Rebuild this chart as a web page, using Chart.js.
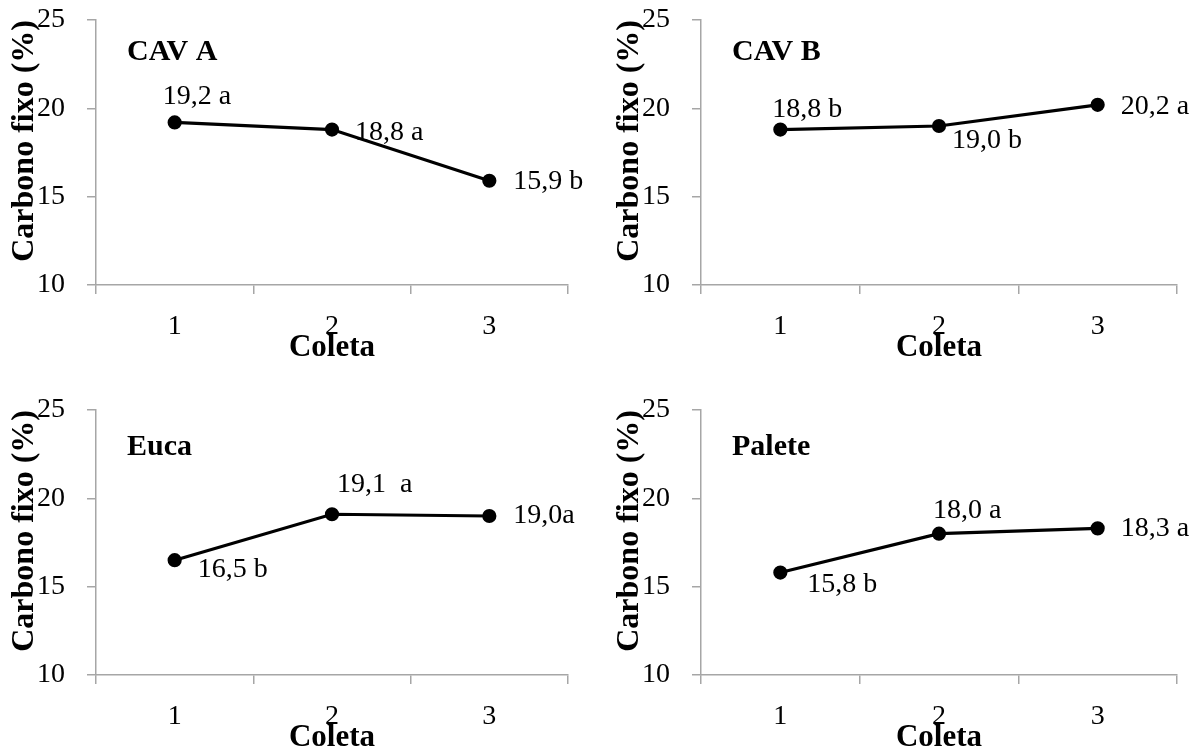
<!DOCTYPE html>
<html>
<head>
<meta charset="utf-8">
<script src="https://cdn.jsdelivr.net/npm/chart.js@4/dist/chart.umd.min.js"></script>
<style>
  html, body { margin: 0; padding: 0; background: #fff; overflow: hidden; width: 1198px; height: 756px; }
  .painel { position: absolute; }
  canvas { display: block; }
</style>
</head>
<body>
<div class="painel" style="left:0px;top:0px"><canvas id="g0" width="599" height="367"></canvas></div>
<div class="painel" style="left:605px;top:0px"><canvas id="g1" width="593" height="367"></canvas></div>
<div class="painel" style="left:0px;top:390px"><canvas id="g2" width="599" height="367"></canvas></div>
<div class="painel" style="left:605px;top:390px"><canvas id="g3" width="593" height="367"></canvas></div>
<script>
// Carbono fixo (%) por coleta, para cada material
const coletas = ['1', '2', '3'];
const nomesPaineis = ['CAV A', 'CAV B', 'Euca', 'Palete'];

const cavA   = [19.2, 18.8, 15.9];
const cavB   = [18.8, 19.0, 20.2];
const euca   = [16.5, 19.1, 19.0];
const palete = [15.8, 18.0, 18.3];

// letras do teste de médias
const letrasCavA   = [' a', ' a', ' b'];
const letrasCavB   = [' b', ' b', ' a'];
const letrasEuca   = [' b', '  a', 'a'];
const letrasPalete = [' b', ' a', ' a'];

const yMin = 10, yMax = 25, yPasso = 5;

const FONTE = "'Liberation Serif', 'Times New Roman', serif";

// deslocamento (px) de cada rótulo em relação ao ponto
const deslocRotulos = [
  [[-12, -26], [23, 3], [24, 1]],
  [[-8, -20], [13, 15], [23, 2]],
  [[23, 9], [5, -30], [24, 0]],
  [[27, 12], [-6, -23], [23, 0]]
];

const series = [cavA, cavB, euca, palete];
const letras = [letrasCavA, letrasCavB, letrasEuca, letrasPalete];

function fmt(v) { return v.toFixed(1).replace('.', ','); }

// escreve os valores junto aos pontos e o nome do material
const rotulos = {
  id: 'rotulos',
  afterDatasetsDraw(chart, args, opts) {
    const ctx = chart.ctx;
    const meta = chart.getDatasetMeta(0);
    const valores = chart.data.datasets[0].data;
    ctx.save();
    ctx.fillStyle = '#000';
    ctx.textAlign = 'left';
    ctx.textBaseline = 'middle';
    ctx.font = '28px ' + FONTE;
    meta.data.forEach((pt, i) => {
      const [dx, dy] = opts.desloc[i];
      ctx.fillText(fmt(valores[i]) + opts.letras[i], pt.x + dx, pt.y + dy);
    });
    ctx.font = 'bold 30px ' + FONTE;
    ctx.fillText(opts.nome, chart.chartArea.left + opts.nomeDx, chart.chartArea.top + opts.nomeDy);
    ctx.restore();
  }
};

const CINZA = '#a6a6a6';

function criarGrafico(idx) {
  const direita = idx % 2 === 1;
  const ctx = document.getElementById('g' + idx);
  return new Chart(ctx, {
    type: 'line',
    data: {
      labels: coletas,
      datasets: [{
        data: series[idx],
        borderColor: '#000',
        backgroundColor: '#000',
        borderWidth: 3.2,
        pointRadius: 5.5,
        pointBackgroundColor: '#000',
        pointBorderColor: '#000',
        tension: 0,
        fill: false,
        clip: false
      }]
    },
    options: {
      responsive: false,
      animation: false,
      layout: { padding: { left: 0, top: 20, right: direita ? 21 : 31, bottom: 0 } },
      plugins: {
        legend: { display: false },
        tooltip: { enabled: false },
        rotulos: {
          desloc: deslocRotulos[idx],
          letras: letras[idx],
          nome: nomesPaineis[idx],
          nomeDx: 31,
          nomeDy: idx < 2 ? 32 : 37
        }
      },
      scales: {
        x: {
          type: 'category',
          offset: true,
          grid: { display: true, offset: true, drawOnChartArea: false, drawTicks: true, tickLength: 9, color: CINZA, lineWidth: 1.5 },
          border: { display: true, color: CINZA, width: 1.5 },
          ticks: { color: '#000', font: { family: FONTE, size: 28 }, padding: 16, maxRotation: 0 },
          title: { display: true, text: 'Coleta', color: '#000', font: { family: FONTE, size: 31, weight: 'bold' }, padding: { top: 0, bottom: 0 } },
          afterFit(s) { s.height = 82; }
        },
        y: {
          min: yMin,
          max: yMax,
          grid: { display: true, drawOnChartArea: false, drawTicks: true, tickLength: 9, color: CINZA, lineWidth: 1.5 },
          border: { display: true, color: CINZA, width: 1.5 },
          ticks: { stepSize: yPasso, color: '#000', font: { family: FONTE, size: 28 }, padding: 22 },
          title: { display: true, text: 'Carbono fixo (%)', align: 'end', color: '#000', font: { family: FONTE, size: 32, weight: 'bold' }, padding: { top: 6, bottom: 0 } },
          afterFit(s) { s.width = 96; s.paddingTop = 0; s.paddingBottom = 0; }
        }
      }
    },
    plugins: [rotulos]
  });
}

[0, 1, 2, 3].forEach(criarGrafico);
</script>
</body>
</html>
